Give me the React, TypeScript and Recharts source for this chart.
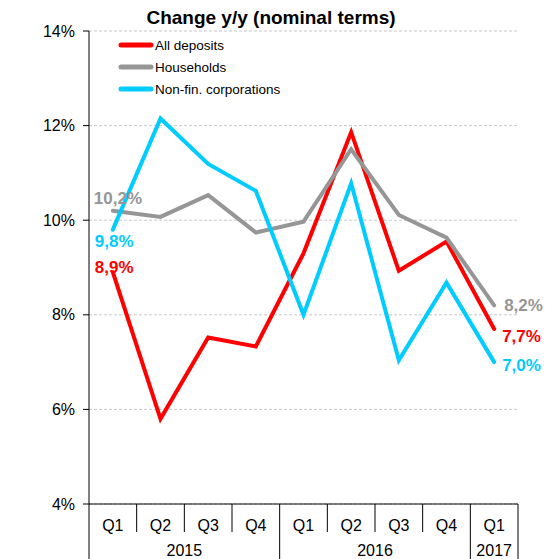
import React from 'react';
import { LineChart, Line, XAxis, YAxis, CartesianGrid, LabelList, Customized } from 'recharts';

const quarters = ['Q1', 'Q2', 'Q3', 'Q4', 'Q1', 'Q2', 'Q3', 'Q4', 'Q1'];
const years = ['2015', '2015', '2015', '2015', '2016', '2016', '2016', '2016', '2017'];
const allDeposits = [8.9, 5.8, 7.52, 7.33, 9.3, 11.86, 8.93, 9.55, 7.7];
const households = [10.2, 10.07, 10.53, 9.74, 9.97, 11.5, 10.11, 9.63, 8.2];
const corporations = [9.8, 12.15, 11.19, 10.62, 8.0, 10.78, 7.04, 8.68, 7.0];
const yTicks = [4, 6, 8, 10, 12, 14];
const seriesNames = ['All deposits', 'Households', 'Non-fin. corporations'];

const RED = '#ff0000';
const GRAY = '#969696';
const CYAN = '#00ccff';
const seriesColors = [RED, GRAY, CYAN];

const data = quarters.map((q, i) => ({
  id: `${years[i]} ${q}`,
  all: allDeposits[i],
  hh: households[i],
  corp: corporations[i],
}));

const W = 555;
const H = 559;
const MARGIN = { top: 31, right: 37, bottom: 0, left: 0 };
const Y_W = 89;
const X_H = 55;
const BAND = (W - Y_W - MARGIN.right) / quarters.length;
const FONT = 'Arial, "Liberation Sans", sans-serif';
const AXIS_FS = 16;

const fmt = (v: number) => v.toFixed(1).replace('.', ',') + '%';

function QuarterTick(props: any) {
  const { x, y, payload } = props;
  const i = props.index ?? payload.index;
  const left = x - BAND / 2;
  const yearStart = i === 0 || years[i] !== years[i - 1];
  const last = i === quarters.length - 1;
  let span = 1;
  while (i + span < years.length && years[i + span] === years[i]) span++;
  return (
    <g>
      <line x1={left} x2={left} y1={y} y2={yearStart ? H : y + 28} stroke="#000" />
      {last && <line x1={left + BAND} x2={left + BAND} y1={y} y2={H} stroke="#000" />}
      <text x={x} y={y + 21} textAnchor="middle" dominantBaseline="central" fontSize={AXIS_FS} fontFamily={FONT} fill="#000">
        {quarters[i]}
      </text>
      {yearStart && (
        <text x={x + ((span - 1) * BAND) / 2} y={y + 46} textAnchor="middle" dominantBaseline="central" fontSize={AXIS_FS} fontFamily={FONT} fill="#000">
          {years[i]}
        </text>
      )}
    </g>
  );
}

type Off = { dx: number; dy: number };
function endLabels(color: string, first: Off, last: Off) {
  return (props: any) => {
    const { x, y, index, value } = props;
    const o = index === 0 ? first : index === quarters.length - 1 ? last : null;
    if (!o) return null;
    return (
      <text x={x + o.dx} y={y + o.dy} fill={color} fontWeight="bold" fontSize={17} fontFamily={FONT} dominantBaseline="central">
        {fmt(value)}
      </text>
    );
  };
}

function Decorations() {
  return (
    <g>
      <text x={271} y={17} textAnchor="middle" dominantBaseline="central" fontWeight="bold" fontSize={19} fontFamily={FONT} fill="#000">
        Change y/y (nominal terms)
      </text>
      {seriesNames.map((n, i) => (
        <g key={n}>
          <line x1={121} x2={151} y1={45 + i * 22} y2={45 + i * 22} stroke={seriesColors[i]} strokeWidth={5} strokeLinecap="round" />
          <text x={155} y={45 + i * 22} dominantBaseline="central" fontSize={13.5} fontFamily={FONT} fill="#000">
            {n}
          </text>
        </g>
      ))}
    </g>
  );
}

export default function App() {
  return (
    <div style={{ position: 'absolute', left: 0, top: 0, width: W, height: H, background: '#fff' }}>
      <LineChart width={W} height={H} data={data} margin={MARGIN}>
        <CartesianGrid vertical={false} stroke="#c8c8c8" strokeDasharray="3 2" />
        <XAxis
          dataKey="id"
          height={X_H}
          padding={{ left: BAND / 2, right: BAND / 2 }}
          interval={0}
          tickLine={false}
          tickSize={0}
          tickMargin={0}
          axisLine={{ stroke: '#000' }}
          tick={<QuarterTick />}
        />
        <YAxis
          width={Y_W}
          domain={[4, 14]}
          ticks={yTicks}
          interval={0}
          tickFormatter={(v: number) => `${v}%`}
          tick={{ fontSize: AXIS_FS, fill: '#000', fontFamily: FONT }}
          axisLine={{ stroke: '#000' }}
          tickLine={{ stroke: '#000' }}
          tickSize={6}
          tickMargin={8}
        />
        <Line type="linear" dataKey="all" stroke={RED} strokeWidth={4} strokeLinecap="round" dot={false} activeDot={false} isAnimationActive={false}>
          <LabelList dataKey="all" content={endLabels(RED, { dx: -18, dy: -5 }, { dx: 8, dy: 8 })} />
        </Line>
        <Line type="linear" dataKey="hh" stroke={GRAY} strokeWidth={4} strokeLinecap="round" dot={false} activeDot={false} isAnimationActive={false}>
          <LabelList dataKey="hh" content={endLabels(GRAY, { dx: -19, dy: -12 }, { dx: 10, dy: 0 })} />
        </Line>
        <Line type="linear" dataKey="corp" stroke={CYAN} strokeWidth={4} strokeLinecap="round" dot={false} activeDot={false} isAnimationActive={false}>
          <LabelList dataKey="corp" content={endLabels(CYAN, { dx: -18, dy: 12 }, { dx: 8, dy: 3 })} />
        </Line>
        <Customized component={<Decorations />} />
      </LineChart>
    </div>
  );
}
